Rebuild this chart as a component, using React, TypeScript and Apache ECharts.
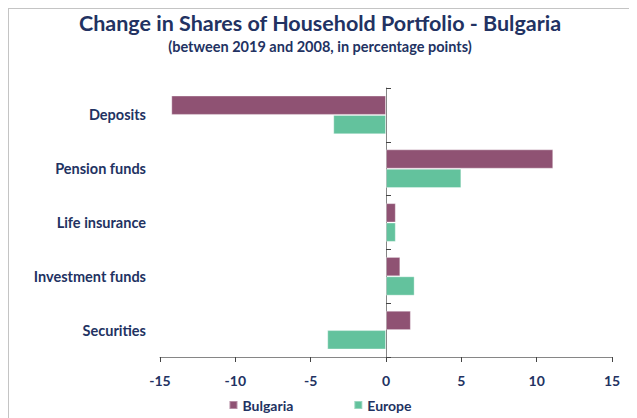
import React, { useEffect, useRef } from "react";
import * as echarts from "echarts";

const categories = ["Deposits", "Pension funds", "Life insurance", "Investment funds", "Securities"];
const bulgaria = [-14.25, 11.1, 0.65, 0.95, 1.65];
const europe = [-3.5, 5.0, 0.65, 1.9, -3.9];
const xTicks = { min: -15, max: 15, interval: 5 };

const NAVY = "#223262";
const FONT = "Lato";

export default function App() {
  const ref = useRef<HTMLDivElement>(null);
  useEffect(() => {
    if (!ref.current) return;
    const chart = echarts.init(ref.current, undefined, { renderer: "svg" });
    chart.setOption({
      animation: false,
      title: {
        text: "Change in Shares of Household Portfolio - Bulgaria",
        subtext: "(between 2019 and 2008, in percentage points)",
        left: "center",
        top: -2,
        itemGap: 5,
        textStyle: { fontFamily: FONT, fontSize: 21.5, fontWeight: "bold", color: NAVY },
        subtextStyle: { fontFamily: FONT, fontSize: 14.5, fontWeight: "bold", color: NAVY },
      },
      legend: {
        bottom: 4,
        left: "center",
        itemGap: 60,
        itemWidth: 8,
        itemHeight: 8,
        icon: "rect",
        textStyle: { fontFamily: FONT, fontSize: 14, fontWeight: "bold", color: NAVY },
        data: ["Bulgaria", "Europe"],
      },
      grid: { left: 151, top: 79, width: 452, height: 269 },
      xAxis: {
        type: "value",
        min: xTicks.min,
        max: xTicks.max,
        interval: xTicks.interval,
        splitLine: { show: false },
        axisLine: { show: true, onZero: false, lineStyle: { color: "#868686" } },
        axisTick: { show: true, length: 5, lineStyle: { color: "#444" } },
        axisLabel: { margin: 16, fontFamily: FONT, fontSize: 14, fontWeight: "bold", color: NAVY },
      },
      yAxis: [
        {
          type: "category",
          data: categories,
          inverse: true,
          position: "left",
          axisLine: { show: false, onZero: false },
          axisTick: { show: false },
          axisLabel: { margin: 14, fontFamily: FONT, fontSize: 14.5, fontWeight: "bold", color: NAVY },
        },
        {
          type: "category",
          data: categories,
          inverse: true,
          position: "left",
          axisLine: { show: true, onZero: true, lineStyle: { color: "#868686" } },
          axisTick: { show: true, inside: true, length: 5, lineStyle: { color: "#444" } },
          axisLabel: { show: false },
        },
      ],
      series: [
        {
          name: "Bulgaria",
          type: "bar",
          data: bulgaria,
          barGap: "0%",
          barCategoryGap: "28%",
          itemStyle: { color: "#8F5273", borderColor: "rgba(255,255,255,0.35)", borderWidth: 1 },
        },
        {
          name: "Europe",
          type: "bar",
          data: europe,
          barGap: "0%",
          barCategoryGap: "28%",
          itemStyle: { color: "#63C29D", borderColor: "rgba(255,255,255,0.35)", borderWidth: 1 },
        },
      ],
    });
    return () => chart.dispose();
  }, []);
  return (
    <div style={{ width: 622, border: "1px solid #c4c4c4", background: "#fff" }}>
      <div ref={ref} style={{ width: 622, height: 412 }} />
    </div>
  );
}
